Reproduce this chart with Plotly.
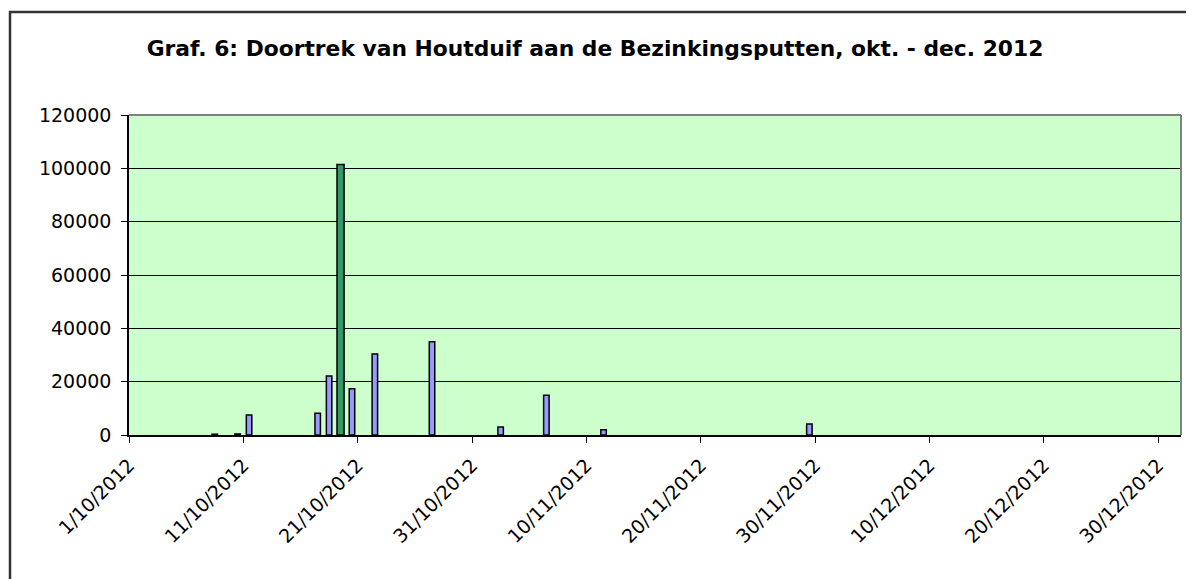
import plotly.graph_objects as go

# Houtduif counts per day (blue series)
blue_dates = ["2012-10-08", "2012-10-10", "2012-10-11", "2012-10-17", "2012-10-18",
              "2012-10-20", "2012-10-22", "2012-10-27", "2012-11-02", "2012-11-06",
              "2012-11-11", "2012-11-29"]
blue_values = [300, 400, 7500, 8200, 22100, 17300, 30400, 35000, 3000, 14900, 2000, 4100]

# peak day (green series)
peak_dates = ["2012-10-19"]
peak_values = [101400]

tick_dates = ["2012-10-01", "2012-10-11", "2012-10-21", "2012-10-31", "2012-11-10",
              "2012-11-20", "2012-11-30", "2012-12-10", "2012-12-20", "2012-12-30"]
tick_labels = ["1/10/2012", "11/10/2012", "21/10/2012", "31/10/2012", "10/11/2012",
               "20/11/2012", "30/11/2012", "10/12/2012", "20/12/2012", "30/12/2012"]

DAY = 86400000
W, H = 1194, 579
OFF = 8  # page body margin
L, R, T, B = 129 - OFF, 1181 - OFF, 115 - OFF, 435 - OFF


def px(x):
    return (x - OFF - L) / (R - L)


def py(y):
    return (B - (y - OFF)) / (B - T)


fig = go.Figure()
fig.add_trace(go.Bar(
    x=blue_dates, y=blue_values, xperiod=DAY, xperiodalignment="middle",
    width=0.48 * DAY, marker=dict(color="#9999FF", line=dict(color="#000000", width=1.5)),
    name="Houtduif"
))
fig.add_trace(go.Bar(
    x=peak_dates, y=peak_values, xperiod=DAY, xperiodalignment="middle",
    width=0.62 * DAY, marker=dict(color="#339966", line=dict(color="#000000", width=1.5)),
    name="Piek"
))

fig.update_layout(
    width=W, height=H,
    margin=dict(l=L, r=W - R, t=T, b=H - B, pad=0),
    paper_bgcolor="white", plot_bgcolor="#CCFFCC",
    barmode="overlay", showlegend=False,
    font=dict(family="DejaVu Sans, Arial, sans-serif", size=19, color="#000000"),
    title=dict(text="<b>Graf. 6: Doortrek van Houtduif aan de Bezinkingsputten, okt. - dec. 2012</b>",
               x=(595 - OFF) / W, xref="container", xanchor="center",
               y=1 - (48 - OFF) / H, yanchor="middle",
               font=dict(size=21.8)),
    shapes=[
        # outer chart border
        dict(type="rect", xref="paper", yref="paper", x0=px(10), x1=px(1193), y0=py(620), y1=py(12),
             line=dict(color="#333333", width=2.5), layer="below"),
        # plot area top / right border
        dict(type="line", xref="paper", yref="paper", x0=0, x1=1, y0=1, y1=1,
             line=dict(color="#808080", width=2)),
        dict(type="line", xref="paper", yref="paper", x0=1, x1=1, y0=0, y1=1,
             line=dict(color="#808080", width=2)),
    ],
)

fig.update_xaxes(
    type="date", range=["2012-10-01", "2013-01-01"],
    tickmode="array", tickvals=tick_dates, ticktext=tick_labels, tickangle=-45,
    ticks="outside", ticklen=6, tickcolor="#000000", tickwidth=1,
    ticklabelstandoff=4,
    showgrid=False, showline=True, linecolor="#000000", linewidth=1.5,
    zeroline=False, automargin=False,
)
fig.update_yaxes(
    range=[0, 120000], tickvals=[0, 20000, 40000, 60000, 80000, 100000, 120000],
    tickformat="d", ticks="outside", ticklen=6, tickcolor="#000000",
    ticklabelstandoff=6,
    showgrid=True, gridcolor="#000000", gridwidth=1,
    showline=True, linecolor="#000000", linewidth=1.5, zeroline=False, automargin=False,
)

fig.write_html("out.html")
